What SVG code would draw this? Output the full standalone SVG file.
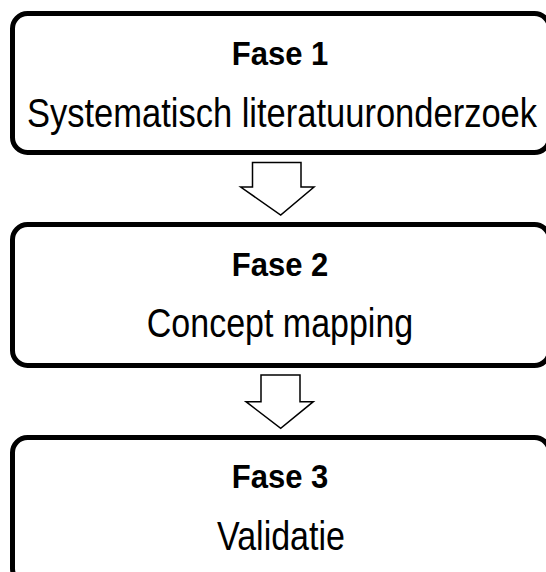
<svg xmlns="http://www.w3.org/2000/svg" width="546" height="572" viewBox="0 0 546 572">
<style>
.box{fill:#fff;stroke:#000;stroke-width:5}
.arr{fill:#fff;stroke:#000;stroke-width:1.5;stroke-linejoin:miter}
.t{font-family:"Liberation Sans",Arial,sans-serif;fill:#000;text-anchor:middle}
.h{font-weight:bold;font-size:31px}
.r{font-size:34px}
</style>
<rect width="546" height="572" fill="#fff"/>
<g id="fase1">
<rect class="box" x="12.5" y="13.5" width="537" height="139" rx="15"/>
<text class="t h" transform="translate(280,65) scale(1,1.05)">Fase 1</text>
<text class="t r" transform="translate(282,127) scale(1,1.2)" textLength="510" lengthAdjust="spacingAndGlyphs">Systematisch literatuuronderzoek</text>
</g>
<g id="fase2">
<rect class="box" x="12.5" y="224.5" width="537" height="141" rx="15"/>
<text class="t h" transform="translate(280,276) scale(1,1.05)">Fase 2</text>
<text class="t r" transform="translate(280,337) scale(1,1.2)">Concept mapping</text>
</g>
<g id="fase3">
<rect class="box" x="12.5" y="437.5" width="537" height="146" rx="15"/>
<text class="t h" transform="translate(280,488) scale(1,1.05)">Fase 3</text>
<text class="t r" transform="translate(281,550) scale(1,1.2)">Validatie</text>
</g>
<g id="connectors">
<polygon class="arr" points="252.5,162.5 301,162.5 301,187 314,187 280.7,215 240.7,187 252.5,187"/>
<polygon class="arr" points="261,375 300,375 300,401.7 313.3,401.7 280.7,428.3 246,401.7 261,401.7"/>
</g>
</svg>
